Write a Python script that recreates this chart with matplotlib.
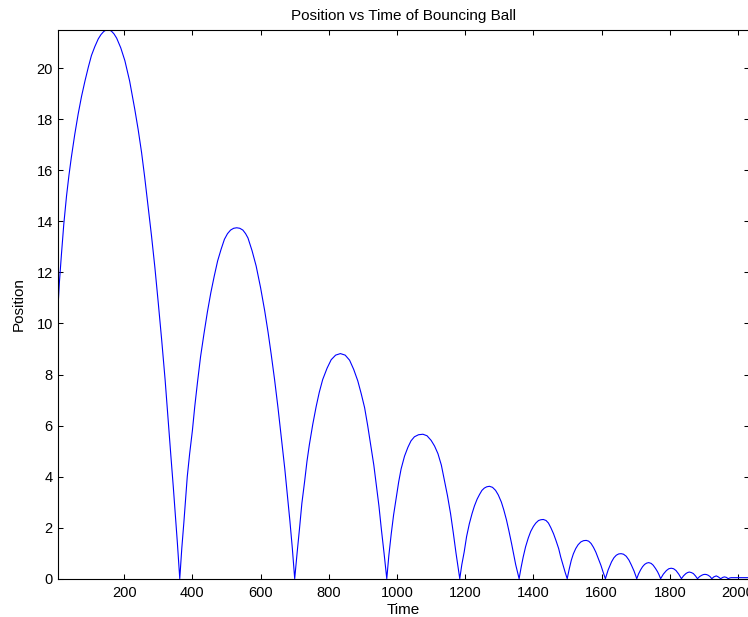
import matplotlib
matplotlib.use("Agg")
import matplotlib.pyplot as plt

plt.rcParams['font.family'] = ['Liberation Sans', 'DejaVu Sans']

# Valores, un arco (rebote) por lista
t1 = [5, 10, 16, 23, 31, 38, 45, 55, 65, 75, 85, 95, 104, 114, 124, 132, 140, 146, 152, 158, 163, 170, 178,
      190, 202, 216, 231, 241, 251, 260, 270, 280, 290, 300, 310, 320, 329, 337, 344, 350, 356, 363]
y1 = [10.4, 11.6, 12.7, 13.9, 15.0, 15.8, 16.5, 17.4, 18.2, 18.9, 19.5, 20.05, 20.5, 20.85, 21.15, 21.32, 21.44,
      21.49, 21.5, 21.49, 21.45, 21.35, 21.18, 20.8, 20.3, 19.5, 18.4, 17.6, 16.7, 15.75, 14.6, 13.45, 12.2,
      10.8, 9.35, 7.8, 6.2, 4.8, 3.6, 2.5, 1.4, 0.0]

t2 = [369, 375, 380, 385, 392, 400, 407, 415, 424, 434, 444, 454, 464, 474, 484, 494, 503, 512, 521, 530,
      539, 548, 556, 563, 575, 587, 600, 612, 622, 631, 641, 651, 661, 671, 679, 686, 693, 700]
y2 = [1.2, 2.2, 3.1, 4.0, 4.9, 5.8, 6.75, 7.7, 8.7, 9.6, 10.45, 11.2, 11.85, 12.45, 12.9, 13.3, 13.52, 13.66,
      13.73, 13.75, 13.73, 13.66, 13.52, 13.35, 12.85, 12.25, 11.4, 10.5, 9.65, 8.8, 7.8, 6.7, 5.5, 4.3, 3.2,
      2.25, 1.2, 0.0]

t3 = [707, 714, 721, 729, 736, 743, 753, 763, 772, 782, 795, 807, 820, 834, 848, 861, 873, 885, 895, 905,
      914, 924, 932, 939, 947, 954, 962, 970]
y3 = [1.0, 1.95, 2.95, 3.8, 4.6, 5.25, 6.05, 6.75, 7.3, 7.8, 8.25, 8.58, 8.76, 8.82, 8.76, 8.56, 8.2, 7.75,
      7.25, 6.7, 6.0, 5.15, 4.45, 3.7, 2.85, 1.95, 1.0, 0.0]

t4 = [976, 983, 990, 998, 1005, 1012, 1022, 1032, 1041, 1051, 1063, 1076, 1088, 1100, 1110, 1120, 1130,
      1139, 1148, 1157, 1165, 1173, 1178, 1184]
y4 = [0.9, 1.75, 2.5, 3.2, 3.8, 4.3, 4.8, 5.15, 5.4, 5.56, 5.64, 5.66, 5.6, 5.42, 5.2, 4.9, 4.45, 3.85,
      3.25, 2.55, 1.8, 1.0, 0.55, 0.0]

t5 = [1190, 1197, 1204, 1212, 1220, 1227, 1235, 1242, 1249, 1256, 1263, 1271, 1280, 1289, 1297, 1306,
      1313, 1321, 1328, 1336, 1342, 1348, 1353, 1358]
y5 = [0.55, 1.05, 1.65, 2.15, 2.55, 2.85, 3.12, 3.3, 3.46, 3.55, 3.6, 3.62, 3.58, 3.46, 3.28, 3.0, 2.7,
      2.3, 1.88, 1.37, 0.95, 0.55, 0.28, 0.0]

t6 = [1364, 1370, 1377, 1385, 1392, 1400, 1407, 1415, 1422, 1429, 1437, 1444, 1451, 1459, 1466, 1474,
      1480, 1487, 1493, 1499]
y6 = [0.45, 0.85, 1.25, 1.6, 1.85, 2.05, 2.18, 2.28, 2.31, 2.32, 2.28, 2.18, 2.0, 1.76, 1.5, 1.18, 0.85,
      0.52, 0.25, 0.0]

t7 = [1505, 1511, 1517, 1524, 1531, 1539, 1547, 1555, 1562, 1569, 1576, 1583, 1590, 1598, 1604, 1611]
y7 = [0.38, 0.72, 0.97, 1.18, 1.33, 1.44, 1.49, 1.5, 1.47, 1.38, 1.23, 1.04, 0.8, 0.52, 0.27, 0.0]

t8 = [1619, 1629, 1636, 1643, 1650, 1657, 1664, 1672, 1680, 1687, 1695, 1703]
y8 = [0.34, 0.66, 0.82, 0.92, 0.97, 0.98, 0.96, 0.88, 0.73, 0.54, 0.3, 0.0]

t9 = [1708, 1714, 1720, 1726, 1732, 1738, 1745, 1751, 1758, 1764, 1768, 1773]
y9 = [0.18, 0.34, 0.47, 0.56, 0.61, 0.63, 0.6, 0.53, 0.4, 0.27, 0.16, 0.0]

# rebotes pequeños del final y la parte casi plana
t_cola = [1781, 1790, 1797, 1804, 1811, 1818, 1826, 1834,
          1840, 1847, 1852, 1857, 1863, 1869, 1875, 1881,
          1887, 1893, 1898, 1903, 1908, 1913, 1918, 1923,
          1929, 1936, 1942, 1949, 1955, 1960, 1966, 1971, 1976, 1980, 2032]
y_cola = [0.18, 0.32, 0.39, 0.41, 0.39, 0.32, 0.18, 0.0,
          0.11, 0.2, 0.24, 0.26, 0.24, 0.2, 0.11, 0.0,
          0.08, 0.13, 0.16, 0.17, 0.16, 0.13, 0.08, 0.0,
          0.07, 0.11, 0.07, 0.0, 0.05, 0.07, 0.05, 0.0, 0.03, 0.04, 0.04]

tiempo = t1 + t2 + t3 + t4 + t5 + t6 + t7 + t8 + t9 + t_cola
posicion = y1 + y2 + y3 + y4 + y5 + y6 + y7 + y8 + y9 + y_cola

xticks = [200, 400, 600, 800, 1000, 1200, 1400, 1600, 1800, 2000]
yticks = [0, 2, 4, 6, 8, 10, 12, 14, 16, 18, 20]

fig = plt.figure(figsize=(7.48, 6.17), dpi=100)
ax = fig.add_axes([0.0771, 0.0621, 0.9242, 0.8893])

ax.plot(tiempo, posicion, color="blue", linewidth=0.8)

ax.set_xlim(5, 2032)
ax.set_ylim(0, 21.5)
ax.set_xticks(xticks)
ax.set_yticks(yticks)
ax.tick_params(direction="in", length=3.6, width=0.75, top=True, right=True,
               labelsize=10.5, pad=5)
ax.tick_params(axis="y", pad=3.5)
for s in ax.spines.values():
    s.set_linewidth(0.8)

ax.set_title("Position vs Time of Bouncing Ball", fontsize=11, pad=7)
ax.set_xlabel("Time", fontsize=11, labelpad=2.5)
ax.set_ylabel("Position", fontsize=11, labelpad=8)

plt.savefig("out.png", dpi=100)
